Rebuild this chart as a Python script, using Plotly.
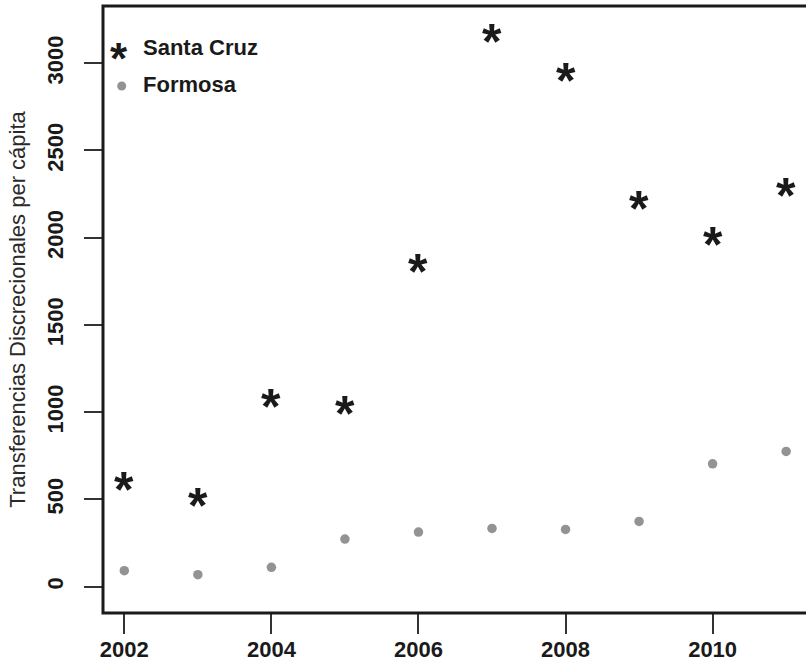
import plotly.graph_objects as go

# Discretionary transfers per capita, 2002-2011
years = [2002, 2003, 2004, 2005, 2006, 2007, 2008, 2009, 2010, 2011]
santa_cruz = [599, 508, 1076, 1033, 1851, 3167, 2946, 2208, 2004, 2285]
formosa = [92, 69, 111, 273, 313, 334, 328, 374, 704, 775]

x_ticks = [2002, 2004, 2006, 2008, 2010]
y_ticks = [0, 500, 1000, 1500, 2000, 2500, 3000]

SANS = "Liberation Sans, Arial, Helvetica, sans-serif"
INK = "#1a1a1a"
GREY = "#939393"

STAR_SIZE = 50
STAR_SHIFT = -8

fig = go.Figure()

fig.add_trace(go.Scatter(
    x=years, y=formosa, mode="markers", name="Formosa",
    marker=dict(symbol="circle", size=9.5, color=GREY),
    showlegend=False,
))

# Santa Cruz drawn as bold asterisk glyphs at each (year, value)
for xv, yv in zip(years, santa_cruz):
    fig.add_annotation(
        x=xv, y=yv, xref="x", yref="y", text="<b>*</b>", showarrow=False,
        font=dict(family=SANS, size=STAR_SIZE, color=INK),
        xanchor="center", yanchor="middle", yshift=STAR_SHIFT,
    )

# Legend (top-left, no box)
fig.add_annotation(
    x=0.0228, y=0.9226, xref="paper", yref="paper", text="<b>*</b>",
    showarrow=False, font=dict(family=SANS, size=44, color=INK),
    xanchor="center", yanchor="middle", yshift=-6,
)
fig.add_annotation(
    x=0.0535, y=0.9316, xref="paper", yref="paper", text="<b>Santa Cruz</b>",
    showarrow=False, font=dict(family=SANS, size=22, color=INK),
    xanchor="left", yanchor="middle",
)
fig.add_shape(
    type="circle", xref="paper", yref="paper",
    xsizemode="pixel", ysizemode="pixel",
    xanchor=0.0266, yanchor=0.8682,
    x0=-4.5, x1=4.5, y0=-4.5, y1=4.5,
    fillcolor=GREY, line=dict(width=0),
)
fig.add_annotation(
    x=0.0535, y=0.8707, xref="paper", yref="paper", text="<b>Formosa</b>",
    showarrow=False, font=dict(family=SANS, size=22, color=INK),
    xanchor="left", yanchor="middle",
)

# Plot frame (right side runs off the page)
fig.add_shape(
    type="rect", xref="paper", yref="paper", x0=0, x1=1.1, y0=0, y1=1,
    line=dict(color=INK, width=3), fillcolor="rgba(0,0,0,0)", layer="above",
)

fig.update_layout(
    width=806, height=664,
    margin=dict(l=103, r=0, t=6, b=51, pad=0, autoexpand=False),
    paper_bgcolor="white", plot_bgcolor="white",
    showlegend=False,
    xaxis=dict(
        range=[2001.71, 2011.27], tickmode="array", tickvals=x_ticks,
        ticktext=[str(v) for v in x_ticks],
        ticks="outside", ticklen=20, tickwidth=1.5, tickcolor="#333",
        showgrid=False, zeroline=False, showline=False, automargin=False,
        tickfont=dict(family=SANS, size=22, color=INK, weight="bold"),
        ticklabelstandoff=-3,
    ),
    yaxis=dict(
        range=[-150.7, 3328], tickmode="array", tickvals=y_ticks,
        ticktext=[str(v) for v in y_ticks], tickangle=-90,
        ticks="outside", ticklen=18, tickwidth=1.5, tickcolor="#333",
        showgrid=False, zeroline=False, showline=False, automargin=False,
        tickfont=dict(family=SANS, size=22, color=INK, weight="bold"),
        ticklabelstandoff=12,
        title=dict(
            text="Transferencias Discrecionales per cápita",
            font=dict(family=SANS, size=22, color="#2a2a2a"),
            standoff=11,
        ),
    ),
)

fig.write_html("out.html")
